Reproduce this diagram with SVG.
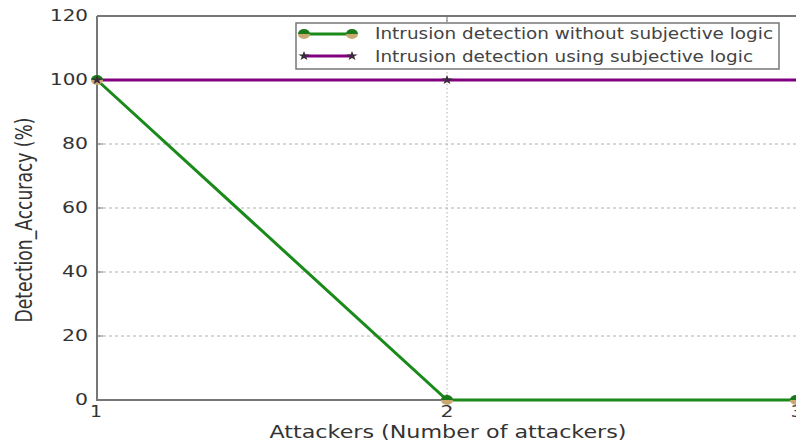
<svg xmlns="http://www.w3.org/2000/svg" width="796" height="443" viewBox="0 0 796 443">
  <style>
    .tick { font-family: "DejaVu Sans", sans-serif; font-size: 15px; fill: #333; }
    .lab { font-family: "DejaVu Sans", sans-serif; font-size: 17px; fill: #333; }
    .leg { font-family: "DejaVu Sans", sans-serif; font-size: 15px; fill: #444; }
    .grid { stroke: #b0b0b0; stroke-width: 1; stroke-dasharray: 3 3; fill: none; }
    .gridv { stroke: #b0b0b0; stroke-width: 1; stroke-dasharray: 1.5 2.5; fill: none; }
    .axis { stroke: #777; stroke-width: 2; fill: none; }
    .green { stroke: #1a8a1a; stroke-width: 3; fill: none; }
    .purple { stroke: #800080; stroke-width: 3; fill: none; }
  </style>
  <defs>
    <g id="dot">
      <path d="M-6,0 A6,5 0 0 1 6,0 Z" fill="#1a7a1a"/>
      <path d="M-6,0 A6,5 0 0 0 6,0 Z" fill="#c9a872"/>
    </g>
    <path id="star" d="M0,-5 L1.4,-1.6 5.6,-1.5 2.2,0.6 3.4,4 0,2 -3.4,4 -2.2,0.6 -5.6,-1.5 -1.4,-1.6 Z" fill="#3a2a3a"/>
  </defs>
  <rect width="796" height="443" fill="#fff"/>

  <!-- grid -->
  <g id="grid">
    <line class="grid" x1="97" y1="336" x2="796" y2="336"/>
    <line class="grid" x1="97" y1="272" x2="796" y2="272"/>
    <line class="grid" x1="97" y1="208" x2="796" y2="208"/>
    <line class="grid" x1="97" y1="144" x2="796" y2="144"/>
    <line class="grid" x1="97" y1="80" x2="796" y2="80"/>
    <line class="gridv" x1="447" y1="16" x2="447" y2="400"/>
  </g>

  <!-- axes frame -->
  <g id="axes">
    <path class="axis" d="M97,16 V400 H796"/>
    <line class="axis" x1="97" y1="16" x2="796" y2="16"/>
    <line stroke="#777" stroke-width="1" x1="447" y1="16" x2="447" y2="22"/>
    <line stroke="#777" stroke-width="1" x1="447" y1="400" x2="447" y2="394"/>
    <g stroke="#777" stroke-width="1">
      <line x1="97" y1="336" x2="103" y2="336"/>
      <line x1="97" y1="272" x2="103" y2="272"/>
      <line x1="97" y1="208" x2="103" y2="208"/>
      <line x1="97" y1="144" x2="103" y2="144"/>
      <line x1="97" y1="80" x2="103" y2="80"/>
    </g>
  </g>

  <!-- tick labels -->
  <g id="yticks" class="tick" text-anchor="end" lengthAdjust="spacingAndGlyphs">
    <text x="88" y="21" textLength="38" lengthAdjust="spacingAndGlyphs">120</text>
    <text x="88" y="85" textLength="38" lengthAdjust="spacingAndGlyphs">100</text>
    <text x="88" y="149" textLength="26" lengthAdjust="spacingAndGlyphs">80</text>
    <text x="88" y="213" textLength="26" lengthAdjust="spacingAndGlyphs">60</text>
    <text x="88" y="277" textLength="26" lengthAdjust="spacingAndGlyphs">40</text>
    <text x="88" y="341" textLength="26" lengthAdjust="spacingAndGlyphs">20</text>
    <text x="88" y="405" textLength="13" lengthAdjust="spacingAndGlyphs">0</text>
  </g>
  <g id="xticks" class="tick" text-anchor="middle">
    <text x="96" y="417" textLength="12" lengthAdjust="spacingAndGlyphs">1</text>
    <text x="447" y="417" textLength="13" lengthAdjust="spacingAndGlyphs">2</text>
    <text x="797" y="417" textLength="13" lengthAdjust="spacingAndGlyphs">3</text>
  </g>

  <!-- axis titles -->
  <text id="xlabel" class="lab" x="448" y="438" text-anchor="middle" textLength="357" lengthAdjust="spacingAndGlyphs">Attackers (Number of attackers)</text>
  <text id="ylabel" class="lab" x="0" y="0" text-anchor="middle" transform="translate(32,220) scale(1.3,1) rotate(-90)" textLength="205" lengthAdjust="spacingAndGlyphs">Detection_Accuracy (%)</text>

  <!-- data series -->
  <g id="connectors">
    <polyline id="series-without" class="green" points="97,80 447,400 796,400"/>
    <polyline id="series-using" class="purple" points="97,80 447,80 796,80"/>
  </g>
  <g id="markers">
    <use href="#dot" x="97" y="80"/>
    <use href="#dot" x="447" y="400"/>
    <use href="#dot" x="796" y="400"/>
    <use href="#star" x="97" y="80"/>
    <use href="#star" x="447" y="80"/>
  </g>

  <!-- legend -->
  <g id="legend">
    <rect x="296" y="23" width="483" height="46" fill="#fff" stroke="#777" stroke-width="1.5"/>
    <line class="green" x1="304" y1="34" x2="352" y2="34"/>
    <use href="#dot" x="304" y="34"/>
    <use href="#dot" x="352" y="34"/>
    <text class="leg" x="375" y="39" textLength="398" lengthAdjust="spacingAndGlyphs">Intrusion detection without subjective logic</text>
    <line class="purple" x1="304" y1="56" x2="352" y2="56"/>
    <use href="#star" x="304" y="56"/>
    <use href="#star" x="352" y="56"/>
    <text class="leg" x="375" y="62" textLength="378" lengthAdjust="spacingAndGlyphs">Intrusion detection using subjective logic</text>
  </g>
</svg>
